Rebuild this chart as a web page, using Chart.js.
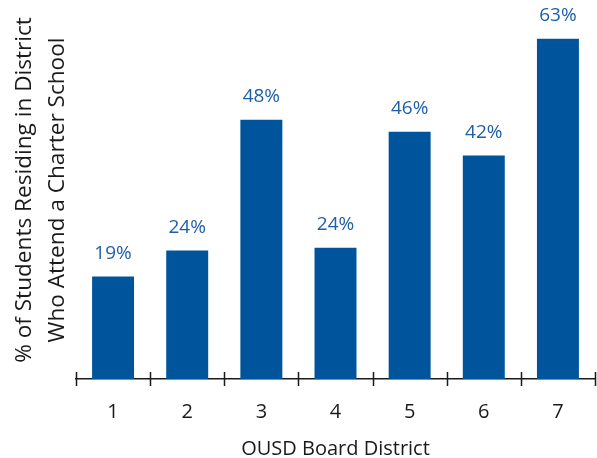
<!DOCTYPE html>
<html>
<head>
<meta charset="utf-8">
<script src="https://cdn.jsdelivr.net/npm/chart.js@4.4.1/dist/chart.umd.min.js"></script>
<style>
  html, body { margin: 0; padding: 0; background: #fff; }
  canvas { display: block; }
</style>
</head>
<body>
<canvas id="chart" width="597" height="458"></canvas>
<script>
// Charter school share by OUSD board district
const districts = ['1', '2', '3', '4', '5', '6', '7'];
const charterShare = [19, 23.8, 48, 24.3, 45.8, 41.4, 63];
const shareLabels = ['19%', '24%', '48%', '24%', '46%', '42%', '63%'];

const barColor = '#00549b';
const labelColor = '#1f5fa7';
const axisColor = '#1a1a1a';
const fontFamily = "'Open Sans', sans-serif";

// Value labels above each bar
const valueLabels = {
  id: 'valueLabels',
  afterDatasetsDraw(chart) {
    const ctx = chart.ctx;
    const meta = chart.getDatasetMeta(0);
    ctx.save();
    ctx.fillStyle = labelColor;
    ctx.font = '19px ' + fontFamily;
    ctx.textAlign = 'center';
    ctx.textBaseline = 'alphabetic';
    meta.data.forEach((bar, i) => {
      ctx.fillText(shareLabels[i], bar.x, bar.y - 17.5);
    });
    ctx.restore();
  }
};

// Tick marks at category boundaries, crossing the axis line
const crossTicks = {
  id: 'crossTicks',
  afterDraw(chart) {
    const ctx = chart.ctx;
    const x = chart.scales.x;
    const y0 = chart.chartArea.bottom;
    ctx.save();
    ctx.strokeStyle = axisColor;
    ctx.lineWidth = 1.5;
    ctx.beginPath();
    for (let i = 0; i <= districts.length; i++) {
      const px = Math.round(x.getPixelForValue(i - 0.5)) + 0.5;
      ctx.moveTo(px, y0 - 7);
      ctx.lineTo(px, y0 + 7);
    }
    ctx.stroke();
    ctx.restore();
  }
};

new Chart(document.getElementById('chart'), {
  type: 'bar',
  data: {
    labels: districts,
    datasets: [{
      data: charterShare,
      backgroundColor: barColor,
      borderWidth: 0,
      barPercentage: 0.566,
      categoryPercentage: 1
    }]
  },
  options: {
    responsive: false,
    animation: false,
    layout: {
      padding: { top: 1, right: 2, left: 0, bottom: 0 }
    },
    plugins: {
      legend: { display: false },
      tooltip: { enabled: false }
    },
    scales: {
      x: {
        afterFit(scale) { scale.height = 79; },
        grid: {
          display: false,
          drawTicks: false
        },
        border: {
          display: true,
          color: axisColor,
          width: 1.5
        },
        ticks: {
          color: axisColor,
          padding: 21,
          font: { family: fontFamily, size: 20 }
        },
        title: {
          display: true,
          text: 'OUSD Board District',
          color: axisColor,
          padding: { top: 0, bottom: 0 },
          font: { family: fontFamily, size: 20, lineHeight: 0.9 }
        }
      },
      y: {
        min: 0,
        max: 70,
        afterFit(scale) { scale.width = 76; },
        grid: { display: false, drawTicks: false },
        border: { display: false },
        ticks: { display: false },
        title: {
          display: true,
          text: ['% of Students Residing in District', 'Who Attend a Charter School'],
          color: axisColor,
          padding: { top: 8, bottom: 0 },
          font: { family: fontFamily, size: 22.6, lineHeight: 1.46 }
        }
      }
    }
  },
  plugins: [valueLabels, crossTicks]
});
</script>
</body>
</html>
